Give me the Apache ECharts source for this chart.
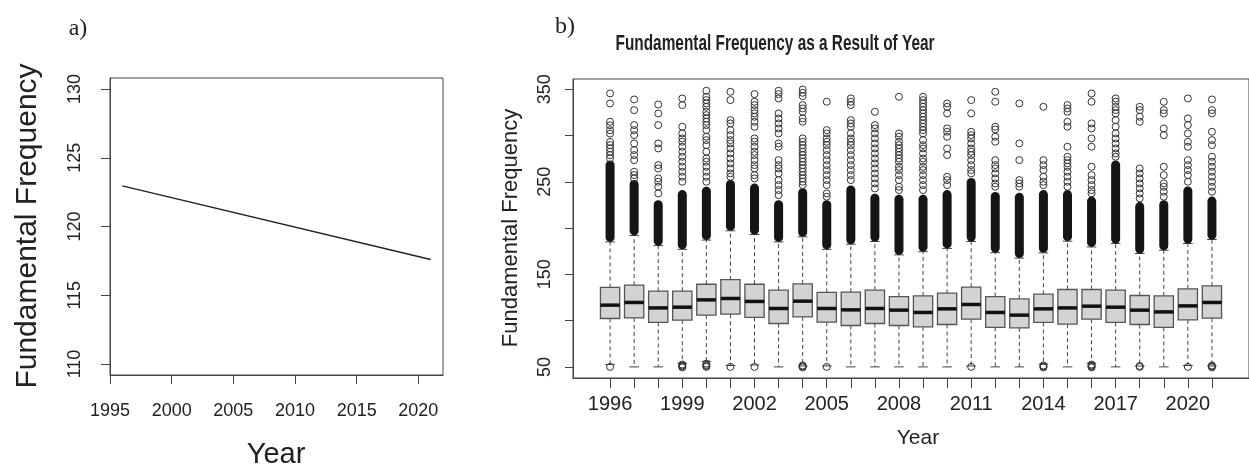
<!DOCTYPE html>
<html>
<head>
<meta charset="utf-8">
<title>Fundamental Frequency by Year</title>
<script src="https://cdn.jsdelivr.net/npm/echarts@6/dist/echarts.min.js"></script>
<style>
  html, body { margin: 0; padding: 0; background: #fff; }
  #chart { width: 1249px; height: 466px; }
</style>
</head>
<body>
<div id="chart"></div>
<script>
// panel a: fitted trend
const trendYears = [1996, 2021];
const trendF0 = [122.95, 117.6];
const trendXTicks = [1995, 2000, 2005, 2010, 2015, 2020];
const trendYTicks = [110, 115, 120, 125, 130];

// panel b: boxplot per year
const years = [1996, 1997, 1998, 1999, 2000, 2001, 2002, 2003, 2004, 2005, 2006, 2007, 2008,
  2009, 2010, 2011, 2012, 2013, 2014, 2015, 2016, 2017, 2018, 2019, 2020, 2021];
const whiskLo = [52.5, 50, 50, 54, 56, 51.5, 52, 50, 51, 51, 50, 50, 50,
  50, 50, 51, 50, 50, 53, 50, 54, 50, 51, 50, 51.5, 51];
const q1 = [102.3, 102.9, 98, 100.5, 105.9, 106.9, 103.4, 96.9, 104, 98.3, 94.7, 96.9, 94.7,
  93.2, 95.8, 101.5, 92.6, 92.1, 98, 96.1, 101.5, 98, 95.8, 92.6, 100.8, 102.6];
const median = [116.7, 119.6, 113.7, 114.5, 122.4, 123.9, 120.7, 113.1, 121, 113.1, 111.6, 113.1, 111.3,
  108.8, 112.7, 117.4, 108.8, 105.9, 112.7, 113.7, 115.6, 114.5, 111.3, 109.4, 115.9, 119.6];
const q3 = [135.8, 138.3, 131.8, 131.8, 139.3, 144.2, 139.3, 132.9, 139.7, 130.4, 130.7, 132.9, 126,
  126.7, 129.6, 136.1, 126, 123.5, 128.5, 133.6, 133.6, 132.9, 127.1, 126.7, 134.3, 137.5];
const whiskHi = [185, 192, 181, 177, 187, 197, 193, 185, 190.5, 177, 182.5, 185.5, 171,
  174.5, 178, 185.5, 173.5, 167.5, 173.2, 185.8, 179.6, 183.3, 172.5, 176, 183.3, 187.6];
// top of the solid run of outliers just above each upper whisker
const denseTop = [273, 252, 230, 241, 244.6, 252, 248, 230, 243, 230, 246, 237, 236,
  236, 241, 254, 239, 238, 241, 241, 234, 273, 228, 230, 245, 234];
// separate outlier circles above the solid run
const upperOutliers = [
  [345.4, 334.6, 314.8, 311, 305.7, 302, 293, 289.6, 286, 282.4, 278.8, 275.2],
  [338.9, 327.4, 311.2, 305.8, 300.4, 291.4, 284.2, 278.8, 273.4, 260.8, 257.2, 253.6],
  [333.5, 323.8, 311.2, 291.4, 286, 268, 264.4, 253.6, 250, 244.6, 237.4],
  [340, 332.8, 309.4, 302.2, 296.8, 293.2, 287.8, 282.4, 277, 271.6, 266.2, 260.8, 255.4, 250],
  [348.3, 341.8, 338.2, 334.6, 331, 325.6, 322, 318.4, 314.8, 311.2, 305.8, 298.6, 295, 289.6, 282.4,
    275.2, 271.6, 266.2, 260.8, 255.4, 250],
  [347.2, 338.2, 316.6, 313, 305.8, 300.4, 295, 291.4, 286, 280.6, 275.2, 269.8, 264.4, 259, 255.4],
  [344.7, 336.4, 332.8, 327.4, 323.8, 320.2, 314.8, 309.4, 296.8, 293.2, 287.8, 282.4, 278.8, 273.4,
    268, 264.4, 257.2, 253.6],
  [348.3, 344.7, 340, 323.8, 318.4, 313, 307.6, 302.2, 291.4, 287.8, 273.4, 268, 264.4, 259, 251.8,
    246.4, 241, 235.6],
  [349.7, 346.1, 342.5, 332.8, 329.2, 325.6, 318.4, 314.8, 296.8, 293.2, 289.6, 286, 282.4, 278.8,
    275.2, 271.6, 268, 264.4, 260.8, 257.2, 253.6, 250, 246.4],
  [336.4, 305.8, 302.2, 296.8, 293.2, 289.6, 284.2, 278.8, 273.4, 268, 262.6, 257.2, 251.8, 246.4,
    237.4, 233.8],
  [340, 336.4, 332.8, 316.6, 313, 309.4, 302.2, 296.8, 293.2, 289.6, 284.2, 278.8, 273.4, 268, 262.6,
    257.2, 251.8],
  [325.6, 311.2, 307.6, 302.2, 296.8, 291.4, 286, 280.6, 275.2, 269.8, 264.4, 259, 253.6, 248.2, 242.8],
  [341.8, 302.2, 298.6, 293.2, 289.6, 286, 282.4, 278.8, 275.2, 271.6, 266.2, 262.6, 257.2, 251.8,
    244.6, 241],
  [341.8, 338.2, 334.6, 331, 327.4, 323.8, 320.2, 316.6, 313, 309.4, 305.8, 302.2, 295, 289.6, 286,
    280.6, 275.2, 271.6, 266.2, 262.6, 257.2, 251.8, 246.4, 241],
  [334.6, 331, 323.8, 307.6, 304, 298.6, 286, 278.8, 255.4, 251.8, 246.4],
  [338.2, 323.8, 304, 300.4, 296.8, 291.4, 286, 282.4, 278.8, 273.4, 268, 262.6, 259],
  [347.2, 336.4, 309.4, 306.5, 298.6, 293.2, 273.4, 268, 264.4, 259, 253.6, 248.2, 244.6],
  [334.6, 291.4, 273.4, 251.8, 248.2, 244.6],
  [331, 273.4, 268, 262.6, 255.4, 250, 246.4],
  [332.8, 329.2, 325.6, 314.8, 309.4, 287.8, 277, 273.4, 269.8, 266.2, 260.8, 255.4, 250, 244.6],
  [345.4, 336.4, 313, 307.6, 296.8, 287.8, 266.2, 257.2, 251.8, 246.4, 241, 237.4],
  [340, 336.4, 331, 327.4, 323.8, 316.6, 309.4, 302.2, 296.8, 291.4, 286, 280.6, 277],
  [331, 327.4, 320.2, 314.8, 264.4, 259, 253.6, 248.2, 242.8, 237.4, 232],
  [336.4, 327.4, 323.8, 307.6, 300.4, 266.2, 257.2, 248.2, 244.6, 239.2, 233.8],
  [340, 318.4, 311.2, 302.2, 293.2, 287.8, 273.4, 268, 262.6, 257.2, 250],
  [338.9, 327.4, 323.8, 304, 295, 289.6, 277, 271.6, 266.2, 260.8, 255.4, 250, 244.6, 239.2]
];
const lowerOutliers = [
  [50], [], [], [49.5, 50.5, 51.5, 52.5], [50, 51, 52, 53.5], [50], [50], [], [49.5, 50.5, 51.5], [50],
  [], [], [], [], [], [50], [], [], [49.5, 50.5, 51.5], [], [49.5, 50.5, 51.5, 52.5], [], [50, 51],
  [], [50], [49.5, 50.5, 51.5]
];
const boxYTicks = [50, 100, 150, 200, 250, 300, 350];
const boxYLabels = [50, 150, 250, 350];
const boxXLabels = [1996, 1999, 2002, 2005, 2008, 2011, 2014, 2017, 2020];

const chart = echarts.init(document.getElementById('chart'));

const ink = '#222';
const sans = "'Liberation Sans', Arial, sans-serif";

const boxData = years.map((y, i) => [y, whiskLo[i], q1[i], median[i], q3[i], whiskHi[i]]);
const denseData = years.map((y, i) => [y, whiskHi[i], denseTop[i]]);
const outlierData = [];
years.forEach((y, i) => {
  upperOutliers[i].forEach(v => outlierData.push([y, v]));
  lowerOutliers[i].forEach(v => outlierData.push([y, v]));
});

function renderBox(params, api) {
  const x = api.value(0);
  const lo = api.coord([x, api.value(1)]);
  const b = api.coord([x, api.value(2)]);
  const m = api.coord([x, api.value(3)]);
  const t = api.coord([x, api.value(4)]);
  const hi = api.coord([x, api.value(5)]);
  const w = api.size([0.8, 0])[0];
  const cx = m[0];
  const dash = { stroke: '#444', lineWidth: 1, lineDash: [4, 3] };
  const solid = { stroke: '#444', lineWidth: 1 };
  return {
    type: 'group',
    children: [
      { type: 'line', shape: { x1: cx, y1: b[1], x2: cx, y2: lo[1] }, style: dash },
      { type: 'line', shape: { x1: cx, y1: t[1], x2: cx, y2: hi[1] }, style: dash },
      { type: 'line', shape: { x1: cx - w / 4, y1: lo[1], x2: cx + w / 4, y2: lo[1] }, style: solid },
      { type: 'line', shape: { x1: cx - w / 4, y1: hi[1], x2: cx + w / 4, y2: hi[1] }, style: solid },
      { type: 'rect', shape: { x: cx - w / 2, y: t[1], width: w, height: b[1] - t[1] },
        style: { fill: '#d3d3d3', stroke: '#555', lineWidth: 1.3 } },
      { type: 'line', shape: { x1: cx - w / 2, y1: m[1], x2: cx + w / 2, y2: m[1] },
        style: { stroke: '#111', lineWidth: 3.5 } }
    ]
  };
}

function renderDense(params, api) {
  const x = api.value(0);
  const p0 = api.coord([x, api.value(1)]);
  const p1 = api.coord([x, api.value(2)]);
  return {
    type: 'rect',
    shape: { x: p0[0] - 4.5, y: p1[1], width: 9, height: p0[1] - p1[1], r: 4.5 },
    style: { fill: '#151515' }
  };
}

const option = {
  animation: false,
  backgroundColor: '#fff',
  grid: [
    { left: 110, top: 78, width: 333, height: 297, show: true, borderColor: '#444', borderWidth: 1 },
    { left: 573, top: 79, width: 689, height: 299, show: true, borderColor: '#444', borderWidth: 1 }
  ],
  xAxis: [
    {
      gridIndex: 0, type: 'value', min: 1995, max: 2022,
      axisLine: { show: true, lineStyle: { color: '#444' } },
      axisTick: { show: true, length: 9, customValues: trendXTicks, lineStyle: { color: '#444' } },
      axisLabel: { customValues: trendXTicks, fontSize: 18, color: ink, fontFamily: sans, margin: 27,
        formatter: v => String(v) },
      splitLine: { show: false }
    },
    {
      gridIndex: 1, type: 'value', min: 1994.46, max: 2022.54,
      axisLine: { show: true, lineStyle: { color: '#444' } },
      axisTick: { show: true, length: 10, customValues: years, lineStyle: { color: '#444' } },
      axisLabel: { customValues: boxXLabels, fontSize: 20, color: ink, fontFamily: sans, margin: 16,
        formatter: v => String(v) },
      splitLine: { show: false }
    }
  ],
  yAxis: [
    {
      gridIndex: 0, type: 'value', min: 109.2, max: 130.8,
      axisLine: { show: true, lineStyle: { color: '#444' } },
      axisTick: { show: true, length: 9, customValues: trendYTicks, lineStyle: { color: '#444' } },
      axisLabel: { customValues: trendYTicks, rotate: 90, fontSize: 18, color: ink, fontFamily: sans,
        margin: 26, formatter: v => String(v) },
      splitLine: { show: false }
    },
    {
      gridIndex: 1, type: 'value', min: 38, max: 361,
      axisLine: { show: true, lineStyle: { color: '#444' } },
      axisTick: { show: true, length: 8, customValues: boxYTicks, lineStyle: { color: '#444' } },
      axisLabel: { customValues: boxYLabels, rotate: 90, fontSize: 18, color: ink, fontFamily: sans,
        margin: 19, formatter: v => String(v) },
      splitLine: { show: false }
    }
  ],
  series: [
    {
      type: 'line', xAxisIndex: 0, yAxisIndex: 0,
      data: trendYears.map((y, i) => [y, trendF0[i]]),
      showSymbol: false, lineStyle: { color: '#222', width: 1.3 }
    },
    {
      type: 'custom', xAxisIndex: 1, yAxisIndex: 1,
      data: boxData, renderItem: renderBox
    },
    {
      type: 'custom', xAxisIndex: 1, yAxisIndex: 1,
      data: denseData, renderItem: renderDense
    },
    {
      type: 'scatter', xAxisIndex: 1, yAxisIndex: 1,
      data: outlierData, symbol: 'circle', symbolSize: 7,
      itemStyle: { color: 'rgba(255,255,255,0)', borderColor: '#333', borderWidth: 1, opacity: 1 }
    }
  ],
  graphic: [
    { type: 'text', x: 78, y: 29, style: { text: 'a)', font: "24px 'Liberation Serif', serif",
      fill: ink, textAlign: 'center', textVerticalAlign: 'middle' } },
    { type: 'text', x: 565, y: 27, style: { text: 'b)', font: "24px 'Liberation Serif', serif",
      fill: ink, textAlign: 'center', textVerticalAlign: 'middle' } },
    // condensed bold title: squeeze the regular bold face horizontally
    { type: 'text', x: 775, y: 44, scaleX: 0.81, scaleY: 1.15, style: { text: 'Fundamental Frequency as a Result of Year',
      font: "bold 19px 'Liberation Sans', Arial, sans-serif",
      fill: ink, textAlign: 'center', textVerticalAlign: 'middle' } },
    { type: 'text', x: 28, y: 226, rotation: Math.PI / 2, style: { text: 'Fundamental Frequency',
      font: "30px 'Liberation Sans', Arial, sans-serif", fill: ink, textAlign: 'center', textVerticalAlign: 'middle' } },
    { type: 'text', x: 276, y: 455, style: { text: 'Year',
      font: "29px 'Liberation Sans', Arial, sans-serif", fill: ink, textAlign: 'center', textVerticalAlign: 'middle' } },
    { type: 'text', x: 511, y: 228, rotation: Math.PI / 2, style: { text: 'Fundamental Frequency',
      font: "22px 'Liberation Sans', Arial, sans-serif", fill: ink, textAlign: 'center', textVerticalAlign: 'middle' } },
    { type: 'text', x: 918, y: 438, style: { text: 'Year',
      font: "21px 'Liberation Sans', Arial, sans-serif", fill: ink, textAlign: 'center', textVerticalAlign: 'middle' } }
  ]
};

chart.setOption(option);
</script>
</body>
</html>
